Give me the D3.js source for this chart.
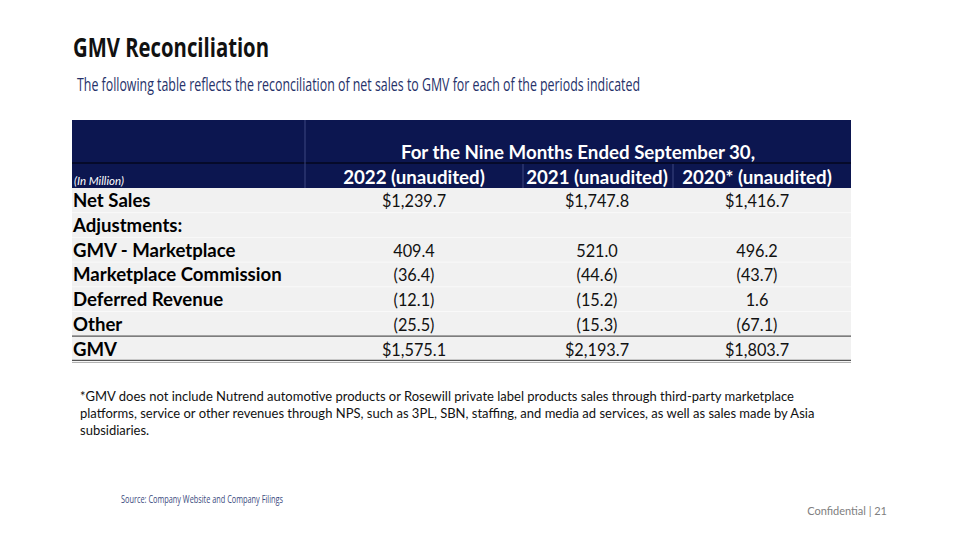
<!DOCTYPE html>
<html>
<head>
<meta charset="utf-8">
<script src="https://cdn.jsdelivr.net/npm/d3@7"></script>
<style>
  html, body { margin: 0; padding: 0; background: #ffffff; }
  svg { display: block; }
</style>
</head>
<body>
<svg id="chart" width="960" height="540"></svg>
<script>
// ---------- data ----------
const periods = ["2022 (unaudited)", "2021 (unaudited)", "2020* (unaudited)"];
const rowLabels = ["Net Sales", "Adjustments:", "GMV - Marketplace", "Marketplace Commission", "Deferred Revenue", "Other", "GMV"];
const values2022 = [1239.7, null, 409.4, -36.4, -12.1, -25.5, 1575.1];
const values2021 = [1747.8, null, 521.0, -44.6, -15.2, -15.3, 2193.7];
const values2020 = [1416.7, null, 496.2, -43.7, 1.6, -67.1, 1803.7];
const dollarRows = ["Net Sales", "GMV"];

const title = "GMV Reconciliation";
const subtitle = "The following table reflects the reconciliation of net sales to GMV for each of the periods indicated";
const spanHeader = "For the Nine Months Ended September 30,";
const unitLabel = "(In Million)";
const footnoteLines = [
  "*GMV does not include Nutrend automotive products or Rosewill private label products sales through third-party marketplace",
  "platforms, service or other revenues through NPS, such as 3PL, SBN, staffing, and media ad services, as well as sales made by Asia",
  "subsidiaries."
];
const sourceText = "Source: Company Website and Company Filings";
const confText = "Confidential | 21";

// ---------- layout ----------
const svg = d3.select("#chart");
const navy = "#0c1650";
const bodyFont = "Lato, 'Open Sans', sans-serif";
const condFont = "'Liberation Sans Narrow', 'Open Sans', sans-serif";

const tableLeft = 72, tableRight = 851;
const labelColRight = 305;
const colBounds = [305, 523, 673, 851];
const headTop = 120, headMid = 163, headBottom = 188;
const rowH = 24.7;

const series = [values2022, values2021, values2020];
const fmtNum = d3.format(",.1f");
function fmt(v, label) {
  if (v == null) return "";
  const s = fmtNum(Math.abs(v));
  const pre = dollarRows.includes(label) ? "$" : "";
  return v < 0 ? "(" + pre + s + ")" : pre + s;
}

const yRow = d3.scaleBand().domain(rowLabels).range([headBottom, headBottom + rowH * rowLabels.length]).padding(0);
const colCenters = [414, 597, 757];
const xCol = d3.scaleOrdinal().domain(periods).range(colCenters);

// title
svg.append("text").attr("x", 73).attr("y", 57)
  .attr("font-family", condFont).attr("font-weight", 700).attr("font-size", 27)
  .attr("fill", "#111").attr("textLength", 196).attr("lengthAdjust", "spacingAndGlyphs")
  .text(title);
svg.append("text").attr("x", 77).attr("y", 91)
  .attr("font-family", condFont).attr("font-size", 18)
  .attr("fill", "#26326a").attr("textLength", 563).attr("lengthAdjust", "spacingAndGlyphs")
  .text(subtitle);

// header background
svg.append("rect").attr("x", tableLeft).attr("y", headTop).attr("width", tableRight - tableLeft).attr("height", headBottom - headTop).attr("fill", navy);
svg.append("line").attr("x1", tableLeft).attr("x2", tableRight).attr("y1", headMid).attr("y2", headMid).attr("stroke", "#050a2a").attr("stroke-width", 2);
svg.append("line").attr("x1", labelColRight).attr("x2", labelColRight).attr("y1", headTop).attr("y2", headBottom).attr("stroke", "#3c4680").attr("stroke-width", 1);
[colBounds[1], colBounds[2]].forEach(x => {
  svg.append("line").attr("x1", x).attr("x2", x).attr("y1", headMid + 1).attr("y2", headBottom).attr("stroke", "#3c4680").attr("stroke-width", 1);
});

svg.append("text").attr("x", (colBounds[0] + colBounds[3]) / 2).attr("y", 159)
  .attr("text-anchor", "middle").attr("font-family", bodyFont).attr("font-weight", 700).attr("font-size", 18.7)
  .attr("fill", "#fff").text(spanHeader);
svg.append("text").attr("x", 74).attr("y", 185)
  .attr("font-family", bodyFont).attr("font-style", "italic").attr("font-size", 11.5)
  .attr("fill", "#fff").text(unitLabel);
svg.selectAll("text.period").data(periods).join("text").attr("class", "period")
  .attr("x", d => xCol(d)).attr("y", 184)
  .attr("text-anchor", "middle").attr("font-family", bodyFont).attr("font-weight", 700).attr("font-size", 18.7)
  .attr("fill", "#fff").text(d => d);

// body
svg.append("rect").attr("x", tableLeft).attr("y", headBottom).attr("width", tableRight - tableLeft)
  .attr("height", rowH * rowLabels.length).attr("fill", "#f1f1f1");
rowLabels.forEach((r, i) => {
  if (i > 0) svg.append("line").attr("x1", tableLeft).attr("x2", tableRight)
    .attr("y1", yRow(r)).attr("y2", yRow(r)).attr("stroke", "#ffffff").attr("stroke-width", 0.6);
});
const gmvTop = yRow("GMV");
svg.append("line").attr("x1", tableLeft).attr("x2", tableRight).attr("y1", gmvTop).attr("y2", gmvTop).attr("stroke", "#555").attr("stroke-width", 1.3);
svg.append("line").attr("x1", tableLeft).attr("x2", tableRight).attr("y1", gmvTop + rowH - 0.5).attr("y2", gmvTop + rowH - 0.5).attr("stroke", "#555").attr("stroke-width", 1.3);
svg.append("line").attr("x1", tableLeft).attr("x2", tableRight).attr("y1", gmvTop + rowH + 1.5).attr("y2", gmvTop + rowH + 1.5).attr("stroke", "#aaa").attr("stroke-width", 1);

svg.selectAll("text.rowlabel").data(rowLabels).join("text").attr("class", "rowlabel")
  .attr("x", 73).attr("y", d => yRow(d) + yRow.bandwidth() / 2 + 7)
  .attr("font-family", bodyFont).attr("font-weight", 700).attr("font-size", 18.6)
  .attr("fill", "#000").text(d => d);

series.forEach((vals, j) => {
  svg.selectAll("text.val" + j).data(vals.map((v, i) => ({ v, label: rowLabels[i] }))).join("text")
    .attr("class", "val" + j)
    .attr("x", xCol(periods[j])).attr("y", d => yRow(d.label) + yRow.bandwidth() / 2 + 7)
    .attr("text-anchor", "middle").attr("font-family", bodyFont).attr("font-size", 16.3)
    .attr("fill", "#111").text(d => fmt(d.v, d.label));
});

// footnote
svg.selectAll("text.foot").data(footnoteLines).join("text").attr("class", "foot")
  .attr("x", 80).attr("y", (d, i) => 401 + i * 17)
  .attr("font-family", bodyFont).attr("font-size", 13)
  .attr("fill", "#111").text(d => d);

svg.append("text").attr("x", 121).attr("y", 503)
  .attr("font-family", condFont).attr("font-size", 10.5)
  .attr("fill", "#3a4a7e").attr("textLength", 162).attr("lengthAdjust", "spacingAndGlyphs")
  .text(sourceText);
svg.append("text").attr("x", 887).attr("y", 515).attr("text-anchor", "end")
  .attr("font-family", bodyFont).attr("font-size", 11)
  .attr("fill", "#808080").text(confText);
</script>
</body>
</html>
